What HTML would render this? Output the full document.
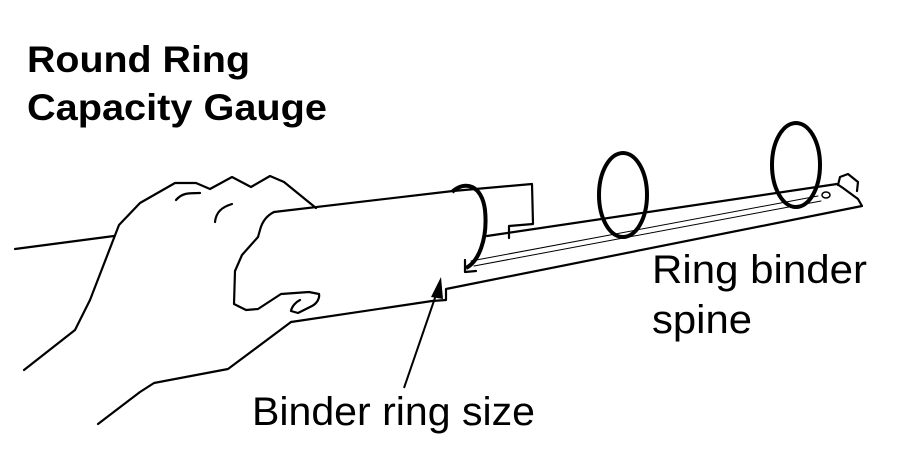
<!DOCTYPE html>
<html><head><style>body{margin:0;background:#fff}svg{display:block}</style></head><body>
<svg width="900" height="465" viewBox="0 0 900 465" xmlns="http://www.w3.org/2000/svg" font-family="Liberation Sans, sans-serif">
<g fill="none" stroke="#000" stroke-width="2.2" stroke-linejoin="round" stroke-linecap="round">
<path d="M15,249 L114,236"/>
<path d="M24,370 L75,330 L90,300 L119,225 L140,203 L175,183 L196,183 L210,189 L232,177 L251,187 L270,176 L284,182 L316,208"/>
<path d="M176,200 C182,193 188,193 200,193 M215,222 C216,212 222,207 232,204"/>
<path d="M274,212 C266,216 262,222 260,230 L258,237 L242,255 L235,271 L234,304 L246,310 L258,309 L281,294 L309,292 L319,294 C320,299 316,304 312,306 L298,313 L291,311 C292,306 296,302 300,300"/>
<path d="M274,212 L453,191 L532,184 L533,224 L509,226 L509,238"/>
<path d="M291,322 L432,301 L446,300 L446,289 L862,206 L858,199 L843,188 L837,184 L487,236"/>
<path d="M838,185 L840,177 L848,174 L858,182 L857,191"/>
<path d="M291,322 L228,369 L154,383 L140,392 L98,424"/>
<path d="M465,260 L465,272 L476,271"/>
<path d="M471,261 L818,196 M474,266 L821,201" stroke-width="1"/>
<ellipse cx="826" cy="195" rx="4" ry="3" stroke-width="1.5"/>
</g>
<g fill="none" stroke="#000" stroke-width="4">
<path d="M452,192 C465,180 482,185 485,210 C488,240 478,262 466,268"/>
<ellipse cx="623" cy="195" rx="24" ry="42"/>
<ellipse cx="796" cy="165" rx="24" ry="42"/>
</g>
<path d="M404,388 L437,292" stroke="#000" stroke-width="2"/>
<path d="M441,277 L431,297 L443,299 Z" fill="#000"/>
<g font-size="37" fill="#000">
<text x="27" y="72" font-weight="bold" textLength="223" lengthAdjust="spacingAndGlyphs">Round Ring</text>
<text x="27" y="120" font-weight="bold" textLength="300" lengthAdjust="spacingAndGlyphs">Capacity Gauge</text>
<text x="652" y="283" font-size="40" textLength="215" lengthAdjust="spacingAndGlyphs">Ring binder</text>
<text x="652" y="333" font-size="40" textLength="100" lengthAdjust="spacingAndGlyphs">spine</text>
<text x="252" y="425" font-size="40" textLength="283" lengthAdjust="spacingAndGlyphs">Binder ring size</text>
</g>
</svg>
</body></html>
